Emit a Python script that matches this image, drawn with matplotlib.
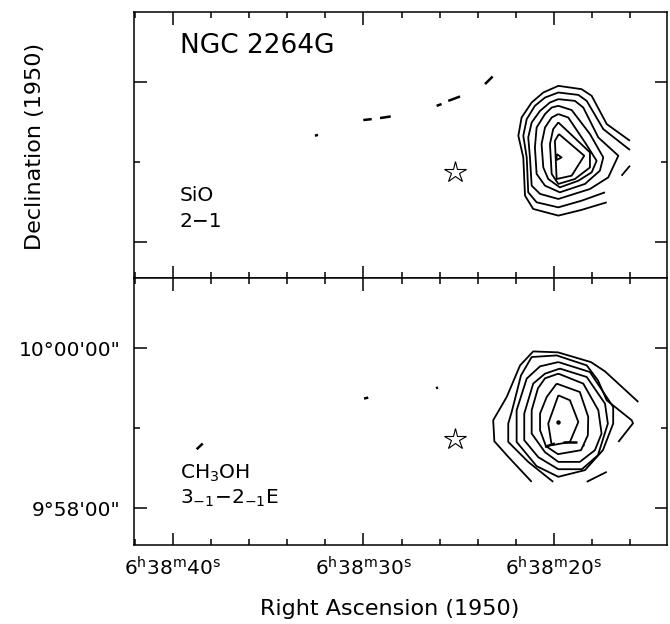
import matplotlib
matplotlib.use('Agg')
import matplotlib.pyplot as plt

# positions: RA in seconds past 6h38m (1950), Dec offset in arcsec from +10d00m00s
star_ra = 25.2
star_dec = -68.0

ra_ticks = [40, 30, 20]
ra_labels = [r'$\mathregular{6^h38^m40^s}$', r'$\mathregular{6^h38^m30^s}$',
             r'$\mathregular{6^h38^m20^s}$']
ra_minor = [42, 38, 36, 34, 32, 28, 26, 24, 22, 18, 16]
dec_ticks = [0, -120]
dec_labels = ["10°00'00\"", "9°58'00\""]
dec_minor = [-60]

# SiO 2-1 contours (outer two are cut by the map edge)
sio_contours = [
    ([17.23, 18.55, 19.77, 21.09, 21.52, 21.61, 21.87, 21.70, 21.17, 20.56, 19.77, 18.55, 18.02, 17.23, 16.01],
     [-90.5, -96.2, -100.5, -95.5, -85.5, -56.8, -40.5, -26.8, -15.5, -8.0, -3.0, -5.5, -10.5, -31.7, -44.3]),
    ([17.32, 18.55, 19.77, 20.91, 21.35, 21.43, 21.61, 21.43, 21.00, 20.47, 19.77, 18.72, 18.28, 17.41, 16.01],
     [-83.0, -89.3, -94.3, -90.5, -83.0, -56.8, -40.5, -28.0, -18.0, -11.8, -8.0, -9.8, -14.3, -35.5, -51.2]),
    ([16.01, 16.45], [-63.0, -70.5]),
    ([19.77, 18.90, 18.46, 17.67, 16.62, 17.15, 18.11, 19.77, 20.73, 21.17, 21.26, 21.35, 21.17, 20.73, 20.21, 19.77],
     [-13.0, -14.3, -19.3, -41.8, -55.5, -71.8, -80.5, -88.0, -84.2, -78.0, -56.8, -41.8, -30.5, -21.8, -15.5, -13.0]),
    ([19.77, 19.07, 18.11, 17.41, 17.59, 18.37, 19.69, 20.47, 20.91, 21.00, 20.91, 20.47, 20.12, 19.77],
     [-18.0, -21.2, -39.2, -56.8, -66.8, -76.7, -83.0, -78.0, -69.2, -49.3, -34.3, -24.2, -19.3, -18.0]),
    ([19.77, 19.25, 18.37, 17.76, 18.02, 18.72, 19.69, 20.30, 20.56, 20.65, 20.47, 20.12, 19.77],
     [-24.2, -26.8, -45.5, -59.3, -68.0, -74.3, -79.3, -73.0, -64.3, -46.7, -34.3, -26.8, -24.2]),
    ([19.77, 18.11, 18.11, 18.90, 19.77, 20.12, 20.21, 20.04, 19.77],
     [-30.5, -53.0, -64.3, -73.0, -76.7, -69.2, -46.7, -35.5, -30.5]),
    ([19.74, 18.41, 19.07, 19.86, 19.95, 19.74],
     [-39.2, -55.5, -70.5, -73.0, -44.3, -39.2]),
    ([19.86, 19.60, 19.86, 19.86],
     [-54.2, -56.8, -58.7, -54.2]),
]
sio_fragments = [
    ([32.55, 32.39], [-40.5, -39.8]),
    ([30.01, 29.57], [-28.7, -28.0]),
    ([29.13, 28.57], [-27.2, -26.0]),
    ([26.16, 25.90], [-18.0, -16.7]),
    ([25.55, 24.93], [-14.3, -11.0]),
    ([23.62, 23.22], [-1.7, 4.0]),
]

# CH3OH 3(-1)-2(-1)E contours
meth_contours = [
    ([21.17, 22.40, 23.13, 23.19, 22.48, 21.78, 21.09, 19.79, 18.06, 17.32, 15.57],
     [-100.3, -81.5, -69.8, -54.0, -36.5, -12.8, -2.3, -3.0, -10.3, -17.3, -40.3]),
    ([20.04, 21.35, 22.40, 22.40, 22.22, 21.73, 21.17, 19.86, 18.28, 17.69, 17.23, 15.92, 15.85, 16.62],
     [-100.3, -85.3, -70.3, -56.5, -47.8, -20.3, -6.5, -5.3, -12.8, -24.0, -39.0, -54.0, -56.3, -70.3]),
    ([18.28, 17.23], [-100.3, -92.8]),
    ([19.77, 18.11, 16.89, 16.89, 17.43, 18.37, 19.77, 20.91, 21.96, 21.96, 21.43, 20.73, 19.77],
     [-10.3, -17.8, -44.0, -56.5, -76.5, -91.5, -96.5, -88.5, -70.3, -46.5, -22.7, -13.5, -10.3]),
    ([19.69, 18.28, 17.32, 17.17, 17.69, 18.53, 19.77, 20.82, 21.56, 21.56, 21.09, 20.47, 19.69],
     [-15.2, -21.5, -41.5, -56.5, -80.3, -90.8, -90.8, -81.8, -69.0, -49.0, -26.5, -19.0, -15.2]),
    ([19.77, 18.46, 17.67, 17.50, 17.85, 18.64, 19.77, 20.47, 21.17, 21.17, 20.84, 20.47, 19.77],
     [-19.0, -26.5, -46.5, -64.0, -76.5, -85.3, -85.3, -78.0, -64.0, -46.5, -30.0, -22.5, -19.0]),
    ([19.86, 18.64, 18.20, 18.22, 18.58, 19.79, 20.42, 20.73, 20.73, 20.38, 19.86],
     [-26.5, -32.8, -51.5, -65.3, -76.5, -79.5, -73.5, -61.5, -49.0, -36.5, -26.5]),
    ([19.77, 19.16, 18.72, 19.16, 20.12, 20.30, 19.77],
     [-35.3, -39.0, -55.3, -70.3, -72.8, -56.5, -35.3]),
]
meth_fragments = [
    ([20.47, 19.95], [-74.0, -71.5]),
    ([19.51, 18.81], [-70.7, -70.7]),
    ([18.46, 18.40], [-72.8, -73.3]),
    ([38.76, 38.44], [-75.8, -71.5]),
    ([29.97, 29.75], [-37.7, -37.0]),
    ([26.19, 26.09], [-30.0, -29.3]),
]
meth_peak = (19.77, -55.3)


def draw_panel(ax, contours, fragments):
    for ra, dec in contours:
        ax.plot(ra, dec, color='k', lw=1.3, solid_capstyle='butt')
    for ra, dec in fragments:
        ax.plot(ra, dec, color='k', lw=1.8, solid_capstyle='butt')
    ax.plot(star_ra, star_dec, marker='*', ms=16, mfc='none', mec='k',
            mew=0.8, ls='none')
    ax.set_xlim(42.05, 14.09)
    ax.set_ylim(-147.75, 52.5)
    ax.set_xticks(ra_ticks)
    ax.set_xticks(ra_minor, minor=True)
    ax.set_yticks(dec_ticks)
    ax.set_yticks(dec_minor, minor=True)
    ax.tick_params(which='both', direction='in', top=True, right=True,
                   width=1.1, labelsize=14.5)
    ax.tick_params(which='major', length=9)
    ax.tick_params(which='minor', length=4.5)
    ax.tick_params(axis='y', pad=10)
    ax.tick_params(axis='x', pad=8)
    for sp in ax.spines.values():
        sp.set_linewidth(1.1)


fig = plt.figure(figsize=(6.7, 6.24), dpi=100)
ax_top = fig.add_axes([0.2, 0.5537, 0.7948, 0.4271])
ax_bot = fig.add_axes([0.2, 0.1266, 0.7948, 0.4271])

draw_panel(ax_top, sio_contours, sio_fragments)
draw_panel(ax_bot, meth_contours, meth_fragments)
ax_bot.plot(*meth_peak, marker='o', ms=2.2, color='k', ls='none')

ax_top.tick_params(labelbottom=False, labelleft=False)
ax_bot.set_xticklabels(ra_labels)
ax_bot.set_yticklabels(dec_labels)

ax_top.text(0.086, 0.92, 'NGC 2264G', transform=ax_top.transAxes,
            fontsize=19, va='top', ha='left')
ax_top.text(0.086, 0.275, 'SiO', transform=ax_top.transAxes,
            fontsize=14.5, va='bottom', ha='left')
ax_top.text(0.086, 0.18, '2\u22121', transform=ax_top.transAxes,
            fontsize=14.5, va='bottom', ha='left')
ax_bot.text(0.086, 0.23, r'CH$_3$OH', transform=ax_bot.transAxes,
            fontsize=14.5, va='bottom', ha='left')
ax_bot.text(0.086, 0.135, r'3$_{-1}$$-$2$_{-1}$E', transform=ax_bot.transAxes,
            fontsize=14.5, va='bottom', ha='left')

fig.text(0.052, 0.765, 'Declination (1950)', rotation=90, fontsize=16,
         ha='center', va='center')
fig.text(0.582, 0.0145, 'Right Ascension (1950)', fontsize=16,
         ha='center', va='baseline')

fig.savefig('out.png', dpi=100)
